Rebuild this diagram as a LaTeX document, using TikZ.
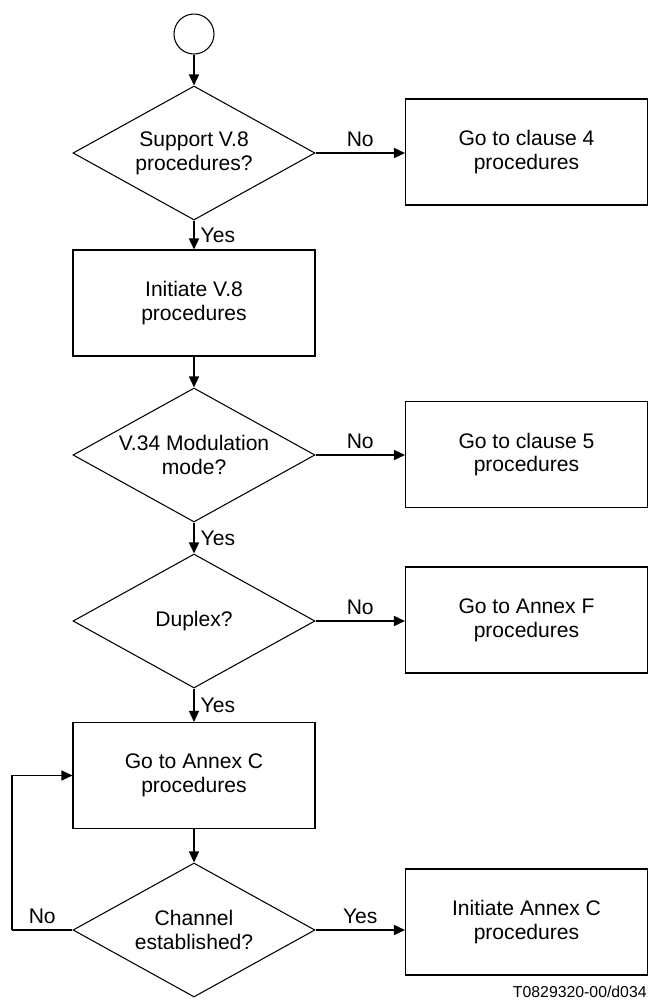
\documentclass[tikz,border=0pt]{standalone}
\usepackage{fontspec}
\setmainfont{Liberation Sans}
\usetikzlibrary{shapes.geometric,arrows.meta}

\begin{document}
\begin{tikzpicture}[
  font=\fontsize{12}{13.5}\selectfont,
  decision/.style={diamond, draw, line width=0.6pt, shape aspect=1.8, minimum width=4.84cm, minimum height=2.68cm, inner sep=0pt, align=center},
  procbox/.style={rectangle, draw, line width=0.6pt, minimum width=4.84cm, minimum height=2.12cm, align=center},
  flow/.style={->, >={Triangle[length=2.2mm,width=2mm]}, line width=0.9pt}
]
\useasboundingbox (0,0) rectangle (12.96,-20.02);

% Start
\node (start) at (3.88,-0.68) [circle, draw, line width=0.6pt, minimum size=0.8cm, inner sep=0pt] {};

% Main column (decisions and boxes)
\node (d1) at (3.88,-3.06) [decision] {Support V.8\\procedures?};
\node (initv8) at (3.88,-6.06) [procbox] {Initiate V.8\\procedures};
\node (d2) at (3.88,-9.10) [decision] {V.34 Modulation\\mode?};
\node (d3) at (3.88,-12.42) [decision] {Duplex?};
\node (annexc) at (3.88,-15.51) [procbox] {Go to Annex C\\procedures};
\node (d4) at (3.88,-18.60) [decision] {Channel\\established?};

% Right column
\node (clause4) at (10.53,-3.04) [procbox] {Go to clause 4\\procedures};
\node (clause5) at (10.53,-9.09) [procbox] {Go to clause 5\\procedures};
\node (annexf) at (10.53,-12.40) [procbox] {Go to Annex F\\procedures};
\node (initc) at (10.53,-18.44) [procbox] {Initiate Annex C\\procedures};

% Figure reference
\node (figref) at (12.94,-19.84) [anchor=east, inner sep=0pt, font=\fontsize{9}{10}\selectfont] {T0829320-00/d034};

% Flow down
\draw[flow] (start) -- (d1);
\draw[flow] (d1) -- node[right] {Yes} (initv8);
\draw[flow] (initv8) -- (d2);
\draw[flow] (d2) -- node[right] {Yes} (d3);
\draw[flow] (d3) -- node[right] {Yes} (annexc);
\draw[flow] (annexc) -- (d4);

% Branches to the right
\draw[flow] (d1.east) -- node[above] {No} (d1.east -| clause4.west);
\draw[flow] (d2.east) -- node[above] {No} (d2.east -| clause5.west);
\draw[flow] (d3.east) -- node[above] {No} (d3.east -| annexf.west);
\draw[flow] (d4.east) -- node[above] {Yes} (d4.east -| initc.west);

% Loop back
\coordinate (loop) at (0.24,-18.60);
\draw[line width=0.6pt] (d4.west) -- node[above] {No} (loop);
\draw[flow, line width=0.6pt] (loop) |- (annexc.west);

\end{tikzpicture}
\end{document}
